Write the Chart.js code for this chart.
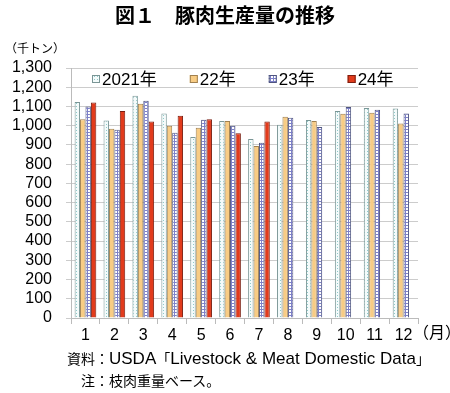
<!DOCTYPE html>
<html>
<head>
<meta charset="utf-8">
<script src="https://cdn.jsdelivr.net/npm/chart.js@4"></script>
<style>
  body { margin: 0; background: #fff; }
  #wrap { position: relative; width: 450px; height: 393px; font-family: "Liberation Sans", "Noto Sans CJK JP", sans-serif; color: #000; }
  #chart { position: absolute; left: 0; top: 0; }
  .txt { position: absolute; white-space: nowrap; }
  #title { left: 0; width: 450px; top: 0px; text-align: center; font-size: 20px; font-weight: bold; font-family: "Noto Sans CJK JP", sans-serif; }
  #unit { left: 5px; top: 39px; font-size: 12px; }
  #month { left: 413px; top: 319px; font-size: 16px; }
  #src { left: 67px; top: 348px; font-size: 14px; }
  #src span { font-size: 17px; }
  #note { left: 81px; top: 370px; font-size: 14px; }
</style>
</head>
<body>
<div id="wrap">
  <canvas id="chart" width="450" height="393"></canvas>
  <div class="txt" id="title">図１　豚肉生産量の推移</div>
  <div class="txt" id="unit">（千トン）</div>
  <div class="txt" id="month">（月）</div>
  <div class="txt" id="src">資料：<span>USDA</span>「<span>Livestock &amp; Meat Domestic Data</span>」</div>
  <div class="txt" id="note">注：枝肉重量ベース。</div>
</div>
<script>
//months on the x axis
const months = ['1', '2', '3', '4', '5', '6', '7', '8', '9', '10', '11', '12'];
//series names for the legend
const seriesNames = ['2021年', '22年', '23年', '24年'];
//monthly pork production, thousand tons
const y2021 = [1123, 1027, 1156, 1064, 941, 1024, 931, 1005, 1029, 1076, 1092, 1090];
const y2022 = [1034, 984, 1114, 1000, 989, 1024, 895, 1046, 1025, 1062, 1067, 1012];
const y2023 = [1100, 979, 1130, 963, 1031, 1000, 911, 1041, 993, 1097, 1083, 1064];
const y2024 = [1121, 1076, 1022, 1052, 1034, 961, 1022, null, null, null, null, null];
//y axis range
const yMin = 0, yMax = 1300, yStep = 100;

const FONT = '"Liberation Sans", "Noto Sans CJK JP", sans-serif';

//small tiles for the patterned fills
function makePattern(size, draw) {
  const c = document.createElement('canvas');
  c.width = size; c.height = size;
  const g = c.getContext('2d');
  draw(g);
  return g.createPattern(c, 'repeat');
}
const dotFill = makePattern(3, g => {
  g.fillStyle = '#f4fbfb';
  g.fillRect(0, 0, 3, 3);
  g.fillStyle = '#8fcaca';
  g.fillRect(1, 1, 1, 1);
});
const checkFill = makePattern(3, g => {
  g.fillStyle = '#ffffff';
  g.fillRect(0, 0, 3, 3);
  g.fillStyle = '#7d80c8';
  g.fillRect(0, 0, 3, 1);
  g.fillRect(0, 0, 1, 3);
});

//legend drawn inside the plot, one row under the top grid line
const innerLegend = {
  id: 'innerLegend',
  afterDraw(chart) {
    const ctx = chart.ctx;
    const area = chart.chartArea;
    ctx.save();
    ctx.font = '17px ' + FONT;
    ctx.textBaseline = 'middle';
    ctx.textAlign = 'left';
    let x = area.left + 21;
    const y = area.top + 11;
    chart.data.datasets.forEach(ds => {
      ctx.fillStyle = ds.backgroundColor;
      ctx.fillRect(x, y - 4, 8, 8);
      ctx.strokeStyle = ds.borderColor;
      ctx.lineWidth = 1;
      ctx.strokeRect(x + 0.5, y - 3.5, 7, 7);
      ctx.fillStyle = '#000';
      ctx.fillText(ds.label, x + 10, y + 1);
      x += 10 + ctx.measureText(ds.label).width + 33;
    });
    ctx.restore();
  }
};

new Chart(document.getElementById('chart'), {
  type: 'bar',
  plugins: [innerLegend],
  data: {
    labels: months,
    datasets: [
      { label: seriesNames[0], data: y2021, backgroundColor: dotFill, borderColor: '#7a9696', borderWidth: 1 },
      { label: seriesNames[1], data: y2022, backgroundColor: '#f8cc84', borderColor: '#a08050', borderWidth: 1 },
      { label: seriesNames[2], data: y2023, backgroundColor: checkFill, borderColor: '#4f5580', borderWidth: 1 },
      { label: seriesNames[3], data: y2024, backgroundColor: '#e23b1c', borderColor: '#7a1e10', borderWidth: 1 },
    ],
  },
  options: {
    responsive: false,
    animation: false,
    layout: { padding: { left: 0, right: 32, top: 68, bottom: 45 } },
    datasets: { bar: { categoryPercentage: 0.75, barPercentage: 1 } },
    plugins: {
      tooltip: { enabled: false },
      legend: { display: false },
    },
    scales: {
      x: {
        offset: true,
        afterFit: s => { s.height = 30; },
        grid: { drawOnChartArea: false, drawTicks: true, tickLength: 6, color: '#bbbbbb' },
        border: { color: '#bbbbbb' },
        ticks: { color: '#000', font: { family: FONT, size: 16 }, padding: 2, maxRotation: 0, autoSkip: false },
      },
      y: {
        min: yMin,
        max: yMax,
        afterFit: s => { s.width = 71; },
        grid: { color: '#cccccc', tickLength: 5 },
        border: { color: '#bbbbbb' },
        ticks: {
          stepSize: yStep,
          autoSkip: false,
          color: '#000',
          padding: 14,
          font: { family: FONT, size: 16 },
          callback: v => v.toLocaleString('en-US'),
        },
      },
    },
  },
});
</script>
</body>
</html>
